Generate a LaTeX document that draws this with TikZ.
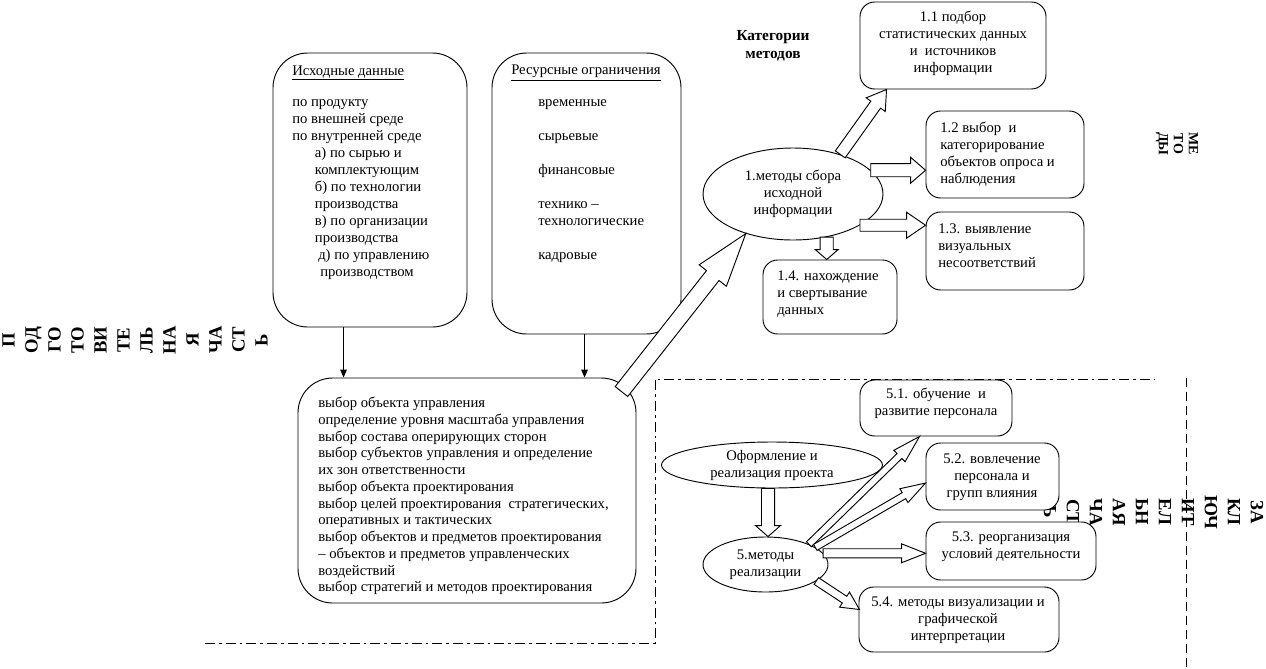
\documentclass[tikz,border=0pt]{standalone}
\usepackage{fontspec}
\setmainfont{Liberation Serif}
\usetikzlibrary{calc,fit,shapes.geometric,arrows.meta}
\newcommand{\txtfont}{\fontsize{11}{12.75}\selectfont}
\newcommand{\bigfont}{\fontsize{11}{12.55}\selectfont}
\newcommand{\blk}[5]{%
  \coordinate (hb) at ($(#2)!#5!(#1)$);
  \draw[blkarrow] ($(#1)!#3!90:(#2)$) -- ($(hb)!#3!90:(#2)$) -- ($(hb)!#4!90:(#2)$) -- (#2) -- ($(hb)!#4!-90:(#2)$) -- ($(hb)!#3!-90:(#2)$) -- ($(#1)!#3!-90:(#2)$) -- cycle;}
\tikzset{
  rbox/.style={draw, line width=0.7pt, fill=white, inner sep=0pt, rounded corners=#1},
  rbox/.default=11pt,
  oval/.style={ellipse, draw, line width=0.7pt, fill=white, inner sep=0pt, align=center, font=\txtfont},
  txt/.style={font=\txtfont, inner sep=0pt, align=left, anchor=west},
  ctxt/.style={font=\txtfont, inner sep=0pt, align=center},
  vtxt/.style={font=\bfseries\fontsize{14}{17.25}\selectfont, inner sep=0pt, align=center},
  blkarrow/.style={draw, line width=0.7pt, fill=white, line join=miter},
  arr/.style={line width=0.7pt, -{Triangle[length=6pt,width=5pt]}},
  dashdot/.style={line width=0.7pt, dash pattern=on 7.5pt off 3pt on 2pt off 3pt},
  dashline/.style={line width=0.7pt, dash pattern=on 7pt off 3.5pt}
}
\begin{document}
\begin{tikzpicture}[x=0.75pt,y=-0.75pt]
\useasboundingbox (0,0) rectangle (1266,668);

% dividers
\draw[dashdot] (205,643) -- (655,643) -- (655,379) -- (1155,379);
\draw[dashline] (1186,378) -- (1186,668);

% rotated labels
\node[vtxt, rotate=90] (lt) at (135,340) {П\\ОД\\ГО\\ТО\\ВИ\\ТЕ\\ЛЬ\\НА\\Я\\ЧА\\СТ\\Ь};
\node[vtxt, rotate=-90] (rt) at (1153.5,512) {ЗА\\КЛ\\ЮЧ\\ИТ\\ЕЛ\\ЬН\\АЯ\\ЧА\\СТ\\Ь};
\node[vtxt, rotate=-90, font=\bfseries\fontsize{10.5}{11.25}\selectfont] (mt) at (1177,144) {МЕ\\ТО\\ДЫ};
\node[ctxt, font=\bfseries\fontsize{11.5}{13.5}\selectfont] (cat) at (773,46) {Категории\\методов};

% left part
\node[rbox=26pt, fit={(273,53) (467,327)}] (bisx) {};
\node[txt] (tisxh) at (292,73) {\underline{Исходные данные}};
\node[txt] (tisx) at (292,190) {по продукту\\по внешней среде\\по внутренней среде\\\hspace*{17pt}а) по сырью и\\\hspace*{17pt}комплектующим\\\hspace*{17pt}б) по технологии\\\hspace*{17pt}производства\\\hspace*{17pt}в) по организации\\\hspace*{17pt}производства\\\hspace*{19.5pt}д) по управлению\\\hspace*{21pt}производством};

\node[rbox=26pt, fit={(492,53) (681,334)}] (bres) {};
\node[txt] (tresh) at (511,73) {\underline{Ресурсные ограничения}};
\node[txt] (tres) at (538,181.5) {временные\\[12.75pt]сырьевые\\[12.75pt]финансовые\\[12.75pt]технико –\\технологические\\[12.75pt]кадровые};

\node[rbox=26pt, fit={(298,378) (636,603)}] (bbig) {};
\node[txt, font=\bigfont] (tbig) at (318,496) {выбор объекта управления\\определение уровня масштаба управления\\выбор состава оперирующих сторон\\выбор субъектов управления и определение\\их зон ответственности\\выбор объекта проектирования\\выбор целей проектирования \ стратегических,\\оперативных и тактических\\выбор объектов и предметов проектирования\\– объектов и предметов управленческих\\воздействий\\выбор стратегий и методов проектирования};

\draw[arr] ([xshift=53.25pt]bisx.south west) -- ([xshift=34.5pt]bbig.north west);
\draw[arr] ([xshift=69.75pt]bres.south west) -- ([xshift=215.25pt]bbig.north west);

% methods of data collection
\node[oval, minimum width=135pt, minimum height=69pt] (e1) at (793,194) {1.методы сбора\\исходной\\информации};

\node[rbox, fit={(860,2) (1046,89)}] (b11) {};
\node[ctxt] (t11) at (953,43.5) {1.1 подбор\\статистических данных\\и \ источников\\информации};
\node[rbox, fit={(926,111) (1084,198)}] (b12) {};
\node[txt] (t12) at (940,154) {1.2 выбор \ и\\категорирование\\объектов опроса и\\наблюдения};
\node[rbox, fit={(926,212) (1084,290)}] (b13) {};
\node[txt] (t13) at (938,246) {1.3. выявление\\визуальных\\несоответствий};
\node[rbox, fit={(763,260) (897,334)}] (b14) {};
\node[txt] (t14) at (777,294) {1.4. нахождение\\и свертывание\\данных};

% realisation
\node[oval, minimum width=165.75pt, minimum height=34.5pt] (eo) at (772,465) {Оформление и\\реализация проекта};
\node[oval, minimum width=93.75pt, minimum height=41.25pt] (e5) at (765.5,564.5) {5.методы\\реализации};

\node[rbox, fit={(860,380) (1012,436)}] (b51) {};
\node[ctxt] (t51) at (936,403.5) {5.1. обучение \ и\\развитие персонала};
\node[rbox, fit={(926,443) (1059,510)}] (b52) {};
\node[ctxt] (t52) at (992,477.5) {5.2. вовлечение\\персонала и\\групп влияния};
\node[rbox, fit={(926,522) (1096,580)}] (b53) {};
\node[ctxt] (t53) at (1011,547) {5.3. реорганизация\\условий деятельности};
\node[rbox, fit={(859,587) (1059,652)}] (b54) {};
\node[ctxt] (t54) at (958,620) {5.4. методы визуализации и\\графической\\интерпретации};

% block arrows
\coordinate (s0) at ([xshift=-11.25pt,yshift=-10.5pt]bbig.north east);
\blk{s0}{e1.220}{6pt}{13pt}{40pt}
\coordinate (t11a) at ([xshift=20.25pt]b11.south west);
\blk{e1.40}{t11a}{4.5pt}{8.8pt}{14pt}
\coordinate (t12a) at (e1.17 -| b12.west);
\blk{e1.17}{t12a}{4.9pt}{9.75pt}{11.25pt}
\coordinate (t13a) at (e1.-25 -| b13.west);
\blk{e1.-25}{t13a}{4.5pt}{9.75pt}{14.25pt}
\coordinate (t14a) at (e1.-52.5 |- b14.north);
\blk{e1.-52.5}{t14a}{4.9pt}{8.6pt}{7.5pt}

\coordinate (s5) at ([xshift=-3pt]eo.south);
\coordinate (t5) at (s5 |- e5.north);
\blk{s5}{t5}{4.9pt}{9.4pt}{8.25pt}
\coordinate (t51a) at ([xshift=45pt]b51.south west);
\blk{e5.25}{t51a}{2.6pt}{6pt}{21pt}
\coordinate (t52a) at ([yshift=-4.9pt]b52.west);
\blk{e5.19}{t52a}{2.6pt}{6pt}{18.75pt}
\coordinate (t53a) at (e5.11 -| b53.west);
\blk{e5.11}{t53a}{3.4pt}{7.1pt}{18pt}
\coordinate (t54a) at ([xshift=0.75pt,yshift=-17.25pt]b54.north west);
\blk{e5.-18}{t54a}{3pt}{6.75pt}{13.5pt}
\end{tikzpicture}
\end{document}
